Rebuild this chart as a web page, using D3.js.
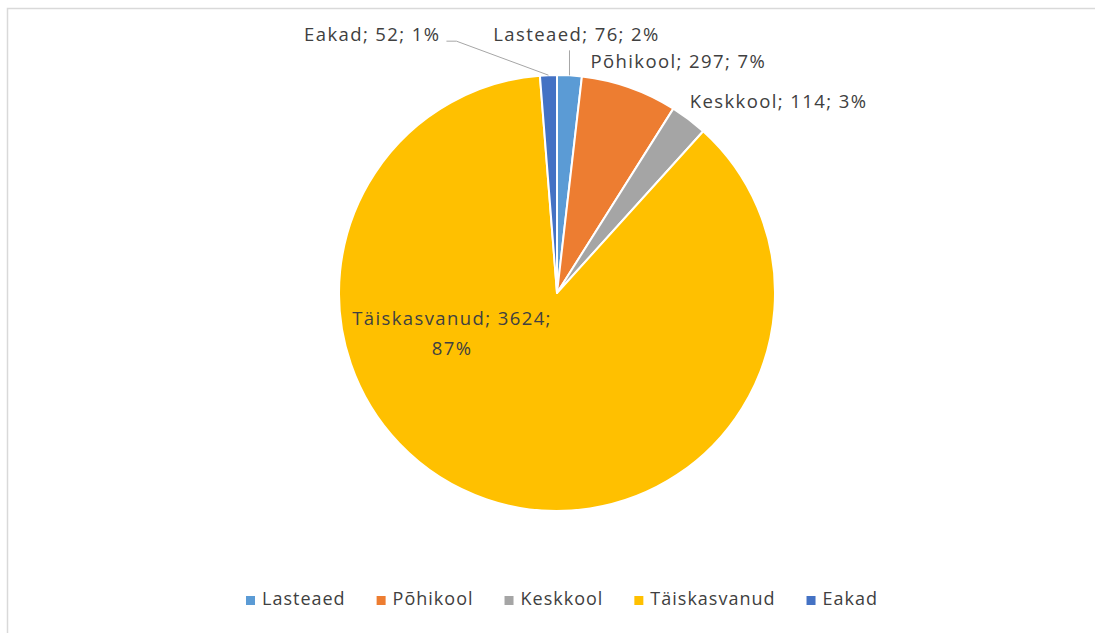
<!DOCTYPE html>
<html>
<head>
<meta charset="utf-8">
<script src="https://cdn.jsdelivr.net/npm/d3@7"></script>
<style>
  html, body { margin: 0; padding: 0; background: #fff; }
  svg { display: block; }
  text { font-family: "Open Sans", "Liberation Sans", sans-serif; fill: #404040; }
</style>
</head>
<body>
<svg id="chart" width="1095" height="633"></svg>
<script>
// Participants by group
const categories = ["Lasteaed", "Põhikool", "Keskkool", "Täiskasvanud", "Eakad"];
const values = [76, 297, 114, 3624, 52];
const colors = ["#5B9BD5", "#ED7D31", "#A5A5A5", "#FFC000", "#4472C4"];

const W = 1095, H = 633;
const cx = 557, cy = 293, R = 218;
const labelFont = { size: 18.5, spacing: 1.4 };
const legendFont = { size: 18, spacing: 1 };

const svg = d3.select("#chart");

// chart frame
svg.append("rect")
  .attr("x", 7.5).attr("y", 8.5)
  .attr("width", W).attr("height", H)
  .attr("fill", "none").attr("stroke", "#d9d9d9").attr("stroke-width", 1.5);

const data = categories.map((c, i) => ({ name: c, value: values[i], color: colors[i] }));
const total = d3.sum(values);

const pie = d3.pie().value(d => d.value).sort(null);
const arcs = pie(data);
const arc = d3.arc().innerRadius(0).outerRadius(R);

const g = svg.append("g").attr("transform", `translate(${cx},${cy})`);

g.selectAll("path.slice")
  .data(arcs)
  .join("path")
  .attr("class", "slice")
  .attr("d", arc)
  .attr("fill", d => d.data.color)
  .attr("stroke", "#fff")
  .attr("stroke-width", 2)
  .attr("stroke-linejoin", "round");

// point on the circle at a given angle (radians, clockwise from 12 o'clock)
function polar(a, r) { return [r * Math.sin(a), -r * Math.cos(a)]; }
const mid = d => (d.startAngle + d.endAngle) / 2;
const pct = d => Math.round(d.value / total * 100) + "%";
const labelText = d => `${d.data.name}; ${d.data.value}; ${pct(d.data)}`;

// label placement: offset of the text baseline point from the slice's outer edge
const labelCfg = {
  "Lasteaed": { dx: 7,    dy: -34, anchor: "middle", leader: "vertical" },
  "Põhikool": { dx: -39,  dy: -19, anchor: "start" },
  "Keskkool": { dx: 1,    dy: -11, anchor: "start" },
  "Eakad":    { dx: -108, dy: -34, anchor: "end", leader: "elbow" }
};

function styleText(sel, f) {
  return sel.attr("font-size", f.size).attr("letter-spacing", f.spacing);
}

const labels = g.append("g");
arcs.forEach(d => {
  const name = d.data.name;
  const a = mid(d);
  if (name === "Täiskasvanud") {
    // label drawn inside the large slice, two lines
    const t = styleText(labels.append("text"), labelFont).attr("text-anchor", "middle");
    t.append("tspan").attr("x", -105).attr("y", 32).text(`${name}; ${d.data.value};`);
    t.append("tspan").attr("x", -105).attr("y", 62).text(pct(d.data));
    return;
  }
  const cfg = labelCfg[name];
  const edge = polar(a, R);
  const tx = edge[0] + cfg.dx, ty = edge[1] + cfg.dy;
  const t = styleText(labels.append("text"), labelFont)
    .attr("x", tx).attr("y", ty)
    .attr("text-anchor", cfg.anchor)
    .text(labelText(d));
  if (cfg.leader === "vertical") {
    labels.append("path")
      .attr("d", `M${edge[0]},${edge[1]}V${ty + 9}`)
      .attr("stroke", "#a6a6a6").attr("fill", "none");
  } else if (cfg.leader === "elbow") {
    labels.append("path")
      .attr("d", `M${tx + 6},${ty}H${tx + 16}L${edge[0]},${edge[1]}`)
      .attr("stroke", "#a6a6a6").attr("fill", "none");
  }
});

// legend
const legend = svg.append("g").attr("transform", `translate(0,605)`);
const items = legend.selectAll("g").data(data).join("g");
items.append("rect").attr("width", 9).attr("height", 9).attr("y", -9)
  .attr("fill", d => d.color);
styleText(items.append("text"), legendFont).attr("x", 16).text(d => d.name);
const gap = 31;
const widths = items.nodes().map(n => n.getBBox().width);
const totalW = d3.sum(widths) + gap * (widths.length - 1);
let x = 562 - totalW / 2;
items.each(function (d, i) {
  d3.select(this).attr("transform", `translate(${x},0)`);
  x += widths[i] + gap;
});
</script>
</body>
</html>
